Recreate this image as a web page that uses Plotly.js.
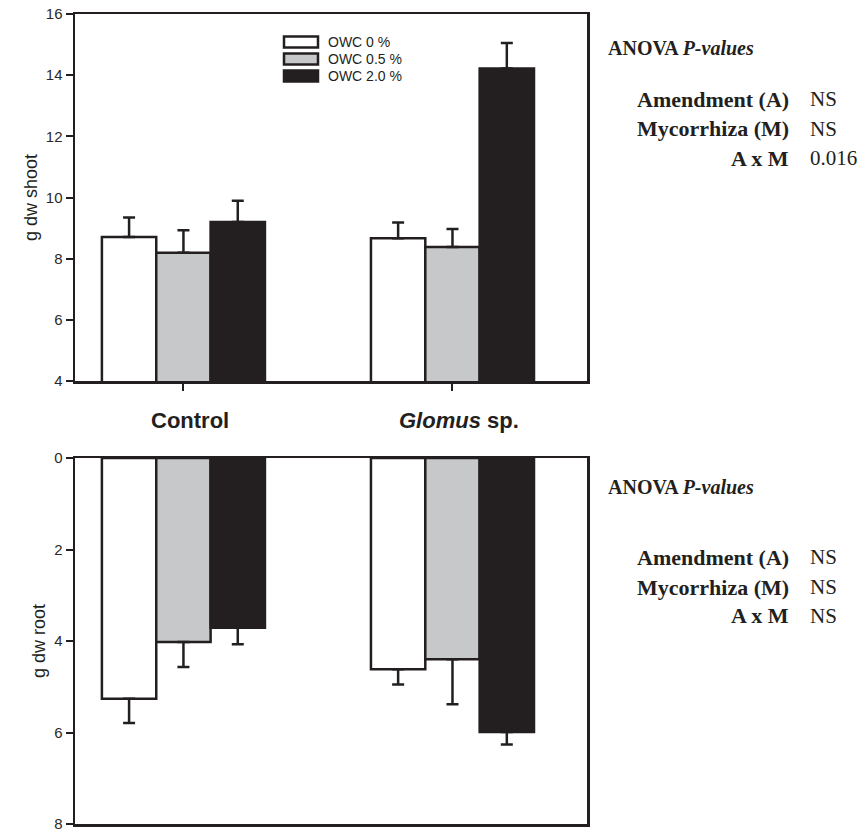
<!DOCTYPE html>
<html>
<head>
<meta charset="utf-8">
<script src="https://cdn.plot.ly/plotly-3.0.1.min.js"></script>
<style>html,body{margin:0;padding:0;background:#fff;}#chart{width:864px;height:832px;}</style>
</head>
<body>
<div id="chart"></div>
<script>
// ---- data ----
var categories = ["Control", "Glomus"];
var categoryLabels = ["<b>Control</b>", "<b><i>Glomus</i> sp.</b>"];
var seriesNames = ["OWC 0 %", "OWC 0.5 %", "OWC 2.0 %"];
var shootOWC0 = [8.71, 8.67];
var shootOWC05 = [8.19, 8.38];
var shootOWC2 = [9.20, 14.22];
var shootErr0 = [0.64, 0.51];
var shootErr05 = [0.74, 0.59];
var shootErr2 = [0.69, 0.83];
var rootOWC0 = [5.26, 4.62];
var rootOWC05 = [4.02, 4.40];
var rootOWC2 = [3.71, 5.99];
var rootErr0 = [0.53, 0.33];
var rootErr05 = [0.55, 0.98];
var rootErr2 = [0.36, 0.27];
var shootTicks = [4, 6, 8, 10, 12, 14, 16];
var rootTicks = [0, 2, 4, 6, 8];
var anovaFactors = ["Amendment (A)", "Mycorrhiza (M)", "A x M"];
var anovaShoot = ["NS", "NS", "0.016"];
var anovaRoot = ["NS", "NS", "NS"];

// ---- styling ----
var INK = "#231f20";
var fills = ["#ffffff", "#c7c8ca", INK];
var shootVals = [shootOWC0, shootOWC05, shootOWC2];
var shootErrs = [shootErr0, shootErr05, shootErr2];
var rootVals = [rootOWC0, rootOWC05, rootOWC2];
var rootErrs = [rootErr0, rootErr05, rootErr2];

var traces = [];
for (var i = 0; i < 3; i++) {
  traces.push({
    type: "bar", x: categories, y: shootVals[i], name: seriesNames[i],
    xaxis: "x", yaxis: "y", showlegend: false,
    marker: {color: fills[i], line: {color: INK, width: 2.5}},
    error_y: {type: "data", symmetric: false, array: shootErrs[i], arrayminus: [0, 0],
              color: INK, thickness: 2.5, width: 6}
  });
}
for (var j = 0; j < 3; j++) {
  traces.push({
    type: "bar", x: categories, y: rootVals[j], name: seriesNames[j],
    xaxis: "x2", yaxis: "y2", showlegend: false,
    marker: {color: fills[j], line: {color: INK, width: 2.5}},
    error_y: {type: "data", symmetric: false, array: rootErrs[j], arrayminus: [0, 0],
              color: INK, thickness: 2.5, width: 6}
  });
}

var PL = 75, PR = 587, PT = 14, PB = 824;
function px2x(px) { return (px - PL) / (PR - PL); }
function px2y(py) { return (PB - py) / (PB - PT); }

var sans = "Liberation Sans, Arial, sans-serif";
var tickFont = {family: sans, size: 15, color: "#2b2829"};
var axisCommon = {showline: true, linecolor: INK, linewidth: 2.5, mirror: true,
                  showgrid: false, zeroline: false};

var shapes = [];
var annotations = [];
// custom legend
var legRows = [42, 59, 76];
for (var k = 0; k < 3; k++) {
  shapes.push({type: "rect", xref: "paper", yref: "paper",
    x0: px2x(284), x1: px2x(318), y0: px2y(legRows[k] + 5.5), y1: px2y(legRows[k] - 5.5),
    fillcolor: fills[k], line: {color: INK, width: 2.5}});
  annotations.push({xref: "paper", yref: "paper", x: px2x(326), y: px2y(legRows[k]),
    xanchor: "left", yanchor: "middle", text: seriesNames[k], showarrow: false,
    font: {family: sans, size: 14, color: INK}});
}
// category labels between panels
for (var c = 0; c < categories.length; c++) {
  annotations.push({xref: "x", yref: "paper", x: categories[c], y: px2y(420), xshift: 7,
    xanchor: "center", yanchor: "middle", text: categoryLabels[c], showarrow: false,
    font: {family: sans, size: 22, color: INK}});
}
// ANOVA blocks
var serif = "Liberation Serif, Times New Roman, serif";
function anova(titleY, rowYs, vals) {
  annotations.push({xref: "paper", yref: "paper", x: px2x(606), y: px2y(titleY),
    xanchor: "left", yanchor: "middle", text: "<b>ANOVA <i>P-values</i></b>", showarrow: false,
    font: {family: serif, size: 20, color: INK}});
  for (var r = 0; r < anovaFactors.length; r++) {
    annotations.push({xref: "paper", yref: "paper", x: px2x(791), y: px2y(rowYs[r]),
      xanchor: "right", yanchor: "middle", text: "<b>" + anovaFactors[r] + "</b>", showarrow: false,
      font: {family: serif, size: 22, color: INK}});
    annotations.push({xref: "paper", yref: "paper", x: px2x(808), y: px2y(rowYs[r]),
      xanchor: "left", yanchor: "middle", text: vals[r], showarrow: false,
      font: {family: serif, size: 21, color: INK}});
  }
}
anova(48, [99, 129, 158], anovaShoot);
anova(487, [557, 587, 616], anovaRoot);

var layout = {
  width: 864, height: 832,
  margin: {l: PL, r: 864 - PR, t: PT, b: 832 - PB, pad: 0},
  paper_bgcolor: "#fff", plot_bgcolor: "#fff",
  barmode: "group", bargap: 0.394, bargroupgap: 0,
  showlegend: false,
  xaxis: Object.assign({}, axisCommon, {domain: [0, 1], anchor: "y", type: "category",
    range: [-0.403, 1.5], ticks: "outside", ticklen: 7, tickwidth: 2, tickcolor: INK,
    showticklabels: false}),
  yaxis: Object.assign({}, axisCommon, {domain: [px2y(381), 1], anchor: "x", range: [4, 16],
    tickvals: shootTicks, ticks: "outside", ticklen: 7, tickwidth: 2, tickcolor: INK,
    tickfont: tickFont, ticklabeloverflow: "allow",
    title: {text: "g dw shoot", font: {family: sans, size: 18, color: INK}, standoff: 4}}),
  xaxis2: Object.assign({}, axisCommon, {domain: [0, 1], anchor: "y2", type: "category",
    range: [-0.403, 1.5], ticks: "", showticklabels: false}),
  yaxis2: Object.assign({}, axisCommon, {domain: [0, px2y(458)], anchor: "x2", range: [8, 0],
    tickvals: rootTicks, ticks: "outside", ticklen: 7, tickwidth: 2, tickcolor: INK,
    tickfont: tickFont, ticklabeloverflow: "allow",
    title: {text: "g dw root", font: {family: sans, size: 18, color: INK}, standoff: 4}}),
  shapes: shapes,
  annotations: annotations
};

Plotly.newPlot("chart", traces, layout, {displayModeBar: false, staticPlot: true});
</script>
</body>
</html>
